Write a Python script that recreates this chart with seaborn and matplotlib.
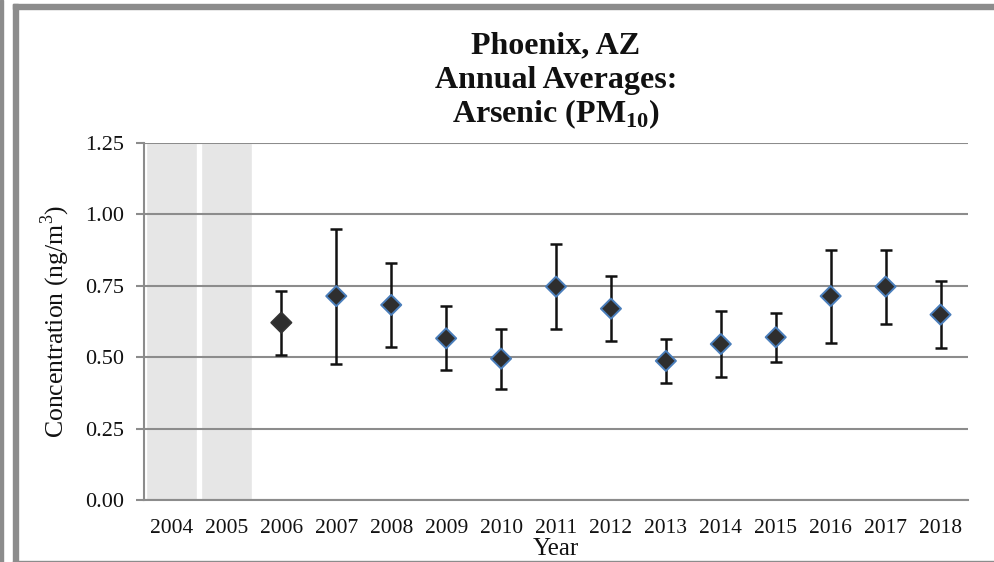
import numpy as np
import matplotlib
matplotlib.use("Agg")
import matplotlib.pyplot as plt
import seaborn as sns
from matplotlib.patches import Rectangle

# dados
years = [str(y) for y in range(2004, 2019)]
no_data_years = ["2004", "2005"]
mean_years = [str(y) for y in range(2006, 2019)]
means = [0.621, 0.714, 0.683, 0.566, 0.495, 0.747, 0.670,
         0.487, 0.546, 0.570, 0.714, 0.747, 0.649]
lower = [0.509, 0.477, 0.536, 0.456, 0.388, 0.598, 0.558,
         0.409, 0.432, 0.483, 0.550, 0.617, 0.532]
upper = [0.732, 0.950, 0.829, 0.678, 0.600, 0.898, 0.784,
         0.565, 0.662, 0.656, 0.875, 0.875, 0.766]
y_max = 1.25

sns.set_theme(style="white")
plt.rcParams["font.family"] = ["Liberation Serif", "DejaVu Serif"]
plt.rcParams["mathtext.fontset"] = "custom"
plt.rcParams["mathtext.rm"] = "Liberation Serif"
plt.rcParams["mathtext.bf"] = "Liberation Serif:bold"

fig = plt.figure(figsize=(9.94, 5.62), dpi=100)
ax = fig.add_axes([144 / 994, 1 - 500 / 562, (968 - 144) / 994, (500 - 143) / 562])

# faixas cinzas (anos sem dados)
sns.barplot(x=no_data_years, y=[y_max] * len(no_data_years), order=years,
            color="#e6e6e6", width=0.92, saturation=1, ax=ax, zorder=0)

xpos = np.array([years.index(y) for y in mean_years])
m = np.array(means)
ax.errorbar(xpos, m, yerr=[m - np.array(lower), np.array(upper) - m],
            fmt="none", ecolor="#111111", elinewidth=1.8, capsize=4,
            capthick=1.8, zorder=3)

edge = ["#333333"] + ["#4a7ebb"] * (len(mean_years) - 1)
sns.scatterplot(x=xpos, y=m, marker="D", s=105, color="#2e2e2e",
                edgecolor=edge, linewidth=1.4, ax=ax, zorder=4)

ax.set_xlim(-0.5, len(years) - 0.5)
ax.set_ylim(0, y_max)
ax.set_yticks(np.arange(0, 1.26, 0.25))
ax.set_yticklabels([f"{v:.2f}" for v in np.arange(0, 1.26, 0.25)])
ax.set_xticks(range(len(years)))
ax.set_xticklabels(years)
ax.set_xticks(np.arange(-0.5, len(years), 1), minor=True)
ax.tick_params(axis="x", which="major", length=0, pad=14, labelsize=15.5, colors="#111111")
ax.tick_params(axis="x", which="minor", length=6, width=1.5, color="#8c8c8c", direction="out")
ax.tick_params(axis="y", length=6, width=1.5, color="#8c8c8c", direction="out",
               left=True, pad=8, labelsize=16, labelcolor="#111111")

ax.yaxis.grid(True, color="#8c8c8c", linewidth=1.5)
ax.set_axisbelow(True)
for s in ["top", "right"]:
    ax.spines[s].set_visible(False)
for s in ["left", "bottom"]:
    ax.spines[s].set_color("#8c8c8c")
    ax.spines[s].set_linewidth(1.5)
    ax.spines[s].set_zorder(1)

ax.set_xlabel("Year", fontsize=18, labelpad=0, color="#111111")
ax.set_ylabel("Concentration (ng/m$^3$)", fontsize=18.5, labelpad=10, color="#111111")

# título em três linhas
cx = (144 + 968) / 2 / 994
for txt, yb in [("Phoenix, AZ", 53), ("Annual Averages:", 88),
                (r"Arsenic (PM$_{\mathbf{10}}$)", 122)]:
    fig.text(cx, 1 - yb / 562, txt, ha="center", va="baseline",
             fontsize=23, fontweight="bold", color="#111111")

# moldura cinza
fig.patches.append(Rectangle((0, 0), 3 / 994, 1, transform=fig.transFigure,
                             color="#8c8c8c", zorder=-1))
fig.patches.append(Rectangle((13 / 994, 0), 5 / 994, 1 - 4 / 562, transform=fig.transFigure,
                             color="#8c8c8c", zorder=-1))
fig.patches.append(Rectangle((13 / 994, 1 - 9 / 562), 1, 5 / 562, transform=fig.transFigure,
                             color="#8c8c8c", zorder=-1))
fig.patches.append(Rectangle((13 / 994, 0), 1, 1.5 / 562, transform=fig.transFigure,
                             color="#8c8c8c", zorder=-1))

fig.savefig("out.png", dpi=100)
